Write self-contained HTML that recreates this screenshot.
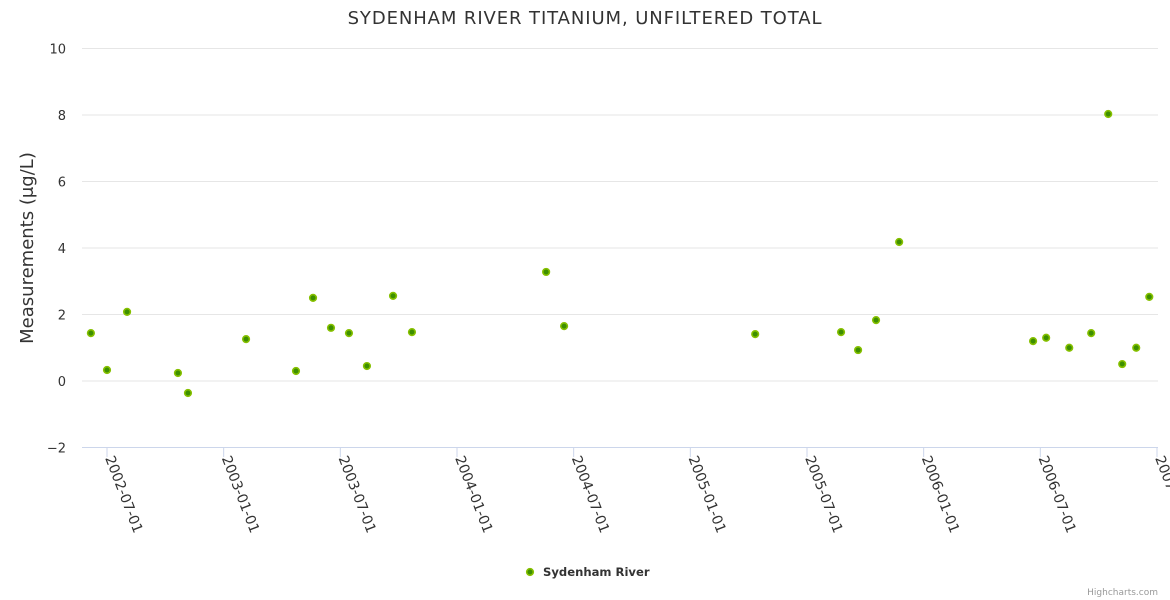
<!DOCTYPE html>
<html><head><meta charset="utf-8"><style>
body{margin:0;background:#fff;}
svg{font-family:"DejaVu Sans","Liberation Sans",sans-serif;display:block}
</style></head><body>
<svg id="chart" width="1170" height="600">
<text x="585" y="24" text-anchor="middle" font-size="18" letter-spacing="0.9" fill="#333">SYDENHAM RIVER TITANIUM, UNFILTERED TOTAL</text>
<text transform="translate(33,248) rotate(-90)" text-anchor="middle" font-size="18" fill="#333">Measurements (μg/L)</text>
<g id="grid"></g><g id="xaxis"></g><g id="points"></g>
<g>
<circle cx="530" cy="572" r="3.3" fill="#3d8f00" stroke="#86c000" stroke-width="1.6"/>
<text x="543" y="576" font-size="11.6" font-weight="bold" fill="#333">Sydenham River</text>
</g>
<text x="1158" y="595" text-anchor="end" font-size="9" fill="#999">Highcharts.com</text>
</svg>
<script>
const dates=[2002.431,2002.5,2002.586,2002.804,2002.847,2003.096,2003.31,2003.383,2003.46,2003.537,2003.614,2003.726,2003.807,2004.382,2004.459,2005.278,2005.646,2005.719,2005.796,2005.895,2006.469,2006.525,2006.624,2006.718,2006.791,2006.851,2006.911,2006.967];
const values=[1.44,0.33,2.08,0.24,-0.36,1.26,0.3,2.5,1.6,1.44,0.45,2.56,1.47,3.28,1.65,1.41,1.47,0.93,1.83,4.18,1.2,1.3,1.0,1.44,8.03,0.51,1.0,2.53];
const yTicks=[-2,0,2,4,6,8,10];
const xTickVals=[2002.5,2003,2003.5,2004,2004.5,2005,2005.5,2006,2006.5,2007];
const xTickLabels=["2002-07-01","2003-01-01","2003-07-01","2004-01-01","2004-07-01","2005-01-01","2005-07-01","2006-01-01","2006-07-01","2007-01-01"];
const NS="http://www.w3.org/2000/svg";
const X=v=>107+(v-2002.5)*233.33;
const Y=v=>381-v*33.25;
function mk(t,a,p){const e=document.createElementNS(NS,t);for(const k in a)e.setAttribute(k,a[k]);p.appendChild(e);return e;}
const grid=document.getElementById('grid');
yTicks.forEach(t=>{
 const l=mk('line',{x1:82,x2:1158,y1:Y(t),y2:Y(t),stroke:t===-2?'#ccd6eb':'#e6e6e6','stroke-width':1},grid);
 
 
 const tx=mk('text',{x:66,y:Y(t)+5,'text-anchor':'end','font-size':13,fill:'#333'},grid);
 tx.textContent=t===-2?'−2':String(t);
 
 
});
const xa=document.getElementById('xaxis');
xTickVals.forEach((v,i)=>{
 const x=X(v);
 const tk=mk('line',{x1:x,x2:x,y1:447,y2:457,stroke:'#ccd6eb'},xa);
 
 
 const tx=mk('text',{transform:`translate(${x-2},458) rotate(69)`,'font-size':14,fill:'#333'},xa);
 tx.textContent=xTickLabels[i];
 
 
});
const pts=document.getElementById('points');
dates.forEach((d,i)=>{
 const c=mk('circle',{cx:X(d),cy:Y(values[i]),r:3.3,fill:'#3d8f00',stroke:'#86c000','stroke-width':1.6},pts);
 
 
});
</script>
</body></html>
